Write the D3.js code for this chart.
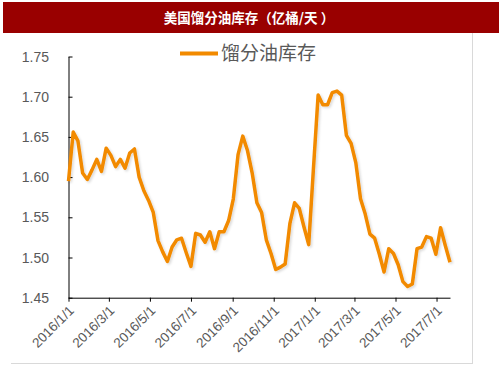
<!DOCTYPE html>
<html>
<head>
<meta charset="utf-8">
<script src="https://cdn.jsdelivr.net/npm/d3@7"></script>
<style>
  body { margin: 0; background: #fff; }
  svg { display: block; }
</style>
</head>
<body>
<div id="chart"></div>
<script>
// weekly distillate stocks, starting 2016/1/1
const startDate = "2016-01-01";
const stocks = [
  1.595, 1.656, 1.645, 1.605, 1.597, 1.609, 1.622, 1.607, 1.636, 1.627,
  1.613, 1.622, 1.611, 1.630, 1.635, 1.600, 1.583, 1.571, 1.556, 1.521,
  1.507, 1.495, 1.513, 1.522, 1.524, 1.506, 1.489, 1.530, 1.528, 1.519,
  1.532, 1.511, 1.532, 1.532, 1.546, 1.573, 1.628, 1.651, 1.633, 1.605,
  1.568, 1.556, 1.522, 1.505, 1.485, 1.488, 1.492, 1.542, 1.568, 1.561,
  1.538, 1.516, 1.610, 1.702, 1.690, 1.690, 1.705, 1.707, 1.702, 1.652,
  1.642, 1.618, 1.573, 1.554, 1.529, 1.524, 1.504, 1.482, 1.511, 1.505,
  1.491, 1.470, 1.464, 1.467, 1.511, 1.513, 1.526, 1.524, 1.504, 1.537,
  1.515, 1.494
];
const xTickLabels = ["2016/1/1", "2016/3/1", "2016/5/1", "2016/7/1", "2016/9/1",
  "2016/11/1", "2017/1/1", "2017/3/1", "2017/5/1", "2017/7/1"];
const yTicks = [1.45, 1.50, 1.55, 1.60, 1.65, 1.70, 1.75];
const title = "美国馏分油库存（亿桶/天\u00a0）";
const seriesName = "馏分油库存";

const parse = d3.timeParse("%Y/%m/%d");
const t0 = d3.timeParse("%Y-%m-%d")(startDate);
const data = stocks.map((v, i) => ({ date: d3.timeDay.offset(t0, i * 7), value: v }));

const width = 503, height = 378;
const svg = d3.select("#chart").append("svg")
  .attr("width", width)
  .attr("height", height);

// outer frame (right and bottom edges only show)
svg.append("line").attr("x1", 472.5).attr("x2", 472.5).attr("y1", 33).attr("y2", 364)
  .attr("stroke", "#d9d9d9");
svg.append("line").attr("x1", 11).attr("x2", 472.5).attr("y1", 363.5).attr("y2", 363.5)
  .attr("stroke", "#d9d9d9");

// title bar
svg.append("rect").attr("x", 3).attr("y", 2).attr("width", 496).attr("height", 31)
  .attr("fill", "#990000");
svg.append("text")
  .attr("x", 249).attr("y", 22.5)
  .attr("text-anchor", "middle")
  .attr("fill", "#fff")
  .attr("font-family", "'Noto Sans CJK SC', sans-serif")
  .attr("font-weight", "bold")
  .attr("font-size", 13.5)
  .text(title);

// scales
const x = d3.scaleTime()
  .domain([data[0].date, data[data.length - 1].date])
  .range([68.5, 450]);
const y = d3.scaleLinear().domain([1.45, 1.75]).range([297.7, 56.5]);

// y axis, ticks inside
const yAxis = svg.append("g")
  .attr("transform", "translate(68.5,0)")
  .call(d3.axisRight(y).tickValues(yTicks).tickSize(4).tickSizeOuter(0).tickFormat(() => ""));
yAxis.selectAll("path.domain, g.tick line").attr("stroke", "#000");

svg.selectAll(".ylab")
  .data(yTicks)
  .enter().append("text")
  .attr("class", "ylab")
  .attr("x", 49)
  .attr("y", d => y(d) + 5)
  .attr("text-anchor", "end")
  .attr("fill", "#595959")
  .attr("font-family", "'Liberation Sans', Arial, sans-serif")
  .attr("font-size", 14)
  .text(d => d.toFixed(2));

// x axis
const xTicks = xTickLabels.map(s => parse(s));
const xAxis = svg.append("g")
  .attr("transform", "translate(0,297.7)")
  .call(d3.axisBottom(x).tickValues(xTicks).tickSize(4).tickSizeOuter(0).tickFormat(() => ""));
xAxis.selectAll("path.domain, g.tick line").attr("stroke", "#000");

svg.selectAll(".xlab")
  .data(xTickLabels)
  .enter().append("text")
  .attr("class", "xlab")
  .attr("transform", d => `translate(${x(parse(d)) + 3},${308}) rotate(-45)`)
  .attr("text-anchor", "end")
  .attr("dy", "0.35em")
  .attr("fill", "#595959")
  .attr("font-family", "'Liberation Sans', Arial, sans-serif")
  .attr("font-size", 13.5)
  .text(d => d);

// soft shadow like the original
const defs = svg.append("defs");
defs.append("filter").attr("id", "shadow")
  .attr("x", "-5%").attr("y", "-5%").attr("width", "110%").attr("height", "110%")
  .append("feDropShadow")
  .attr("dx", 1.5).attr("dy", 1.5).attr("stdDeviation", 1)
  .attr("flood-color", "#000").attr("flood-opacity", 0.15);

const line = d3.line()
  .x(d => x(d.date))
  .y(d => y(d.value));

svg.append("path")
  .datum(data)
  .attr("fill", "none")
  .attr("stroke", "#f28a00")
  .attr("stroke-width", 3.5)
  .attr("stroke-linejoin", "round")
  .attr("filter", "url(#shadow)")
  .attr("d", line);

// legend
svg.append("line")
  .attr("x1", 180).attr("x2", 218).attr("y1", 53.5).attr("y2", 53.5)
  .attr("stroke", "#f28a00").attr("stroke-width", 4);
svg.append("text")
  .attr("x", 221).attr("y", 60)
  .attr("fill", "#595959")
  .attr("font-family", "'Noto Sans CJK SC', sans-serif")
  .attr("font-size", 19)
  .text(seriesName);
</script>
</body>
</html>
